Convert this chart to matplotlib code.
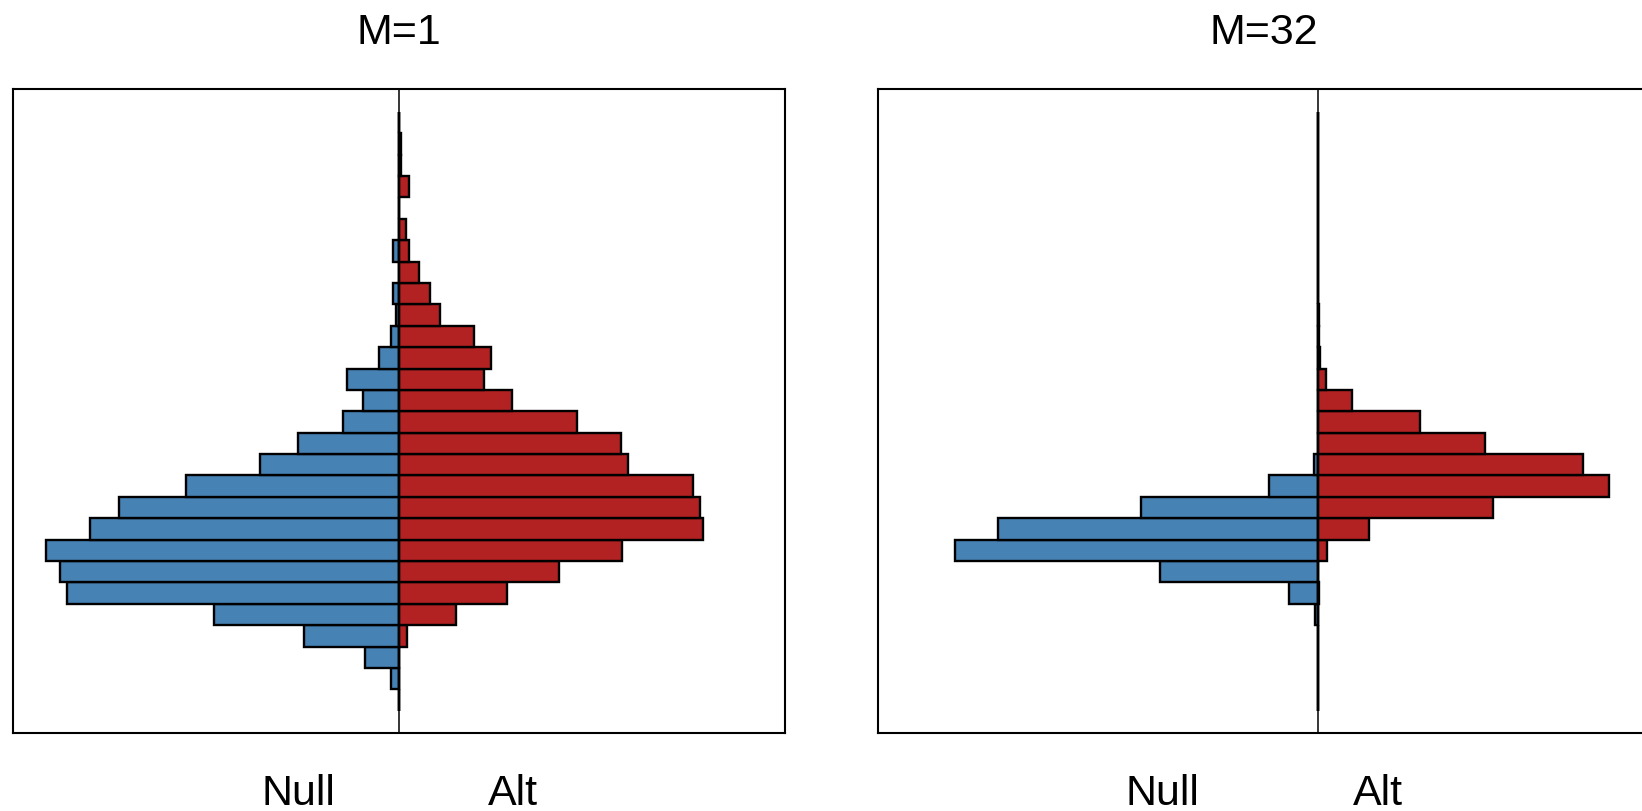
import numpy as np
import matplotlib
matplotlib.use("Agg")
import matplotlib.pyplot as plt

plt.rcParams["font.family"] = ["Liberation Sans", "DejaVu Sans"]

# histogram bins, counted from the bottom of each panel
bins = np.arange(28)

# M=1 panel (bar lengths, arbitrary units)
null_m1 = [0, 2.2, 9.4, 26.9, 52.4, 94.0, 96.1, 100, 87.5, 79.4, 60.4, 39.2, 28.4, 15.9,
           10.1, 14.6, 5.6, 2.2, 0.7, 1.5, 0, 1.5, 0, 0, 0, 0, 0, 0]
alt_m1 = [0, 0, 0, 2.3, 16.2, 30.8, 45.4, 63.5, 86.2, 85.5, 83.4, 65.1, 63.0, 50.5,
          32.1, 24.2, 26.3, 21.3, 11.7, 9.0, 5.9, 3.0, 2.1, 0, 3.0, 0.8, 0.8, 0]

# M=32 panel
null_m32 = [0, 0, 0, 0, 0.7, 8.0, 43.4, 100, 88.2, 48.6, 13.6, 1.2, 0, 0,
            0, 0, 0, 0, 0, 0, 0, 0, 0, 0, 0, 0, 0, 0]
alt_m32 = [0, 0, 0, 0, 0, 0.3, 0, 2.5, 14.0, 48.3, 80.2, 72.9, 45.9, 28.0,
           9.3, 2.1, 0.6, 0.3, 0.3, 0, 0, 0, 0, 0, 0, 0, 0, 0]

titles = ["M=1", "M=32"]
side_labels = ["Null", "Alt"]

W, H = 1642, 811
fig = plt.figure(figsize=(W / 100, H / 100), dpi=100)

panels = [
    (titles[0], null_m1, alt_m1, (-109.4, 109.5), 12.8),
    (titles[1], null_m32, alt_m32, (-121.3, 91.3), 877.5),
]

for title, null, alt, xlim, left_px in panels:
    ax = fig.add_axes([left_px / W, (H - 733.3) / H, 771.9 / W, 644 / H])
    ax.barh(bins + 0.5, -np.array(null), height=1, color="#4682B4",
            edgecolor="black", linewidth=1.7)
    ax.barh(bins + 0.5, alt, height=1, color="#B22222",
            edgecolor="black", linewidth=1.7)
    # empty bins still leave their outline on the zero line
    ax.vlines(0, bins[0], bins[-1] + 1, color="black", linewidth=1.7)
    ax.axvline(0, color="black", linewidth=1.1)
    ax.set_xlim(*xlim)
    ax.set_ylim(-1.05, 29.05)
    ax.set_xticks([])
    ax.set_yticks([])
    for s in ax.spines.values():
        s.set_linewidth(1.5)
    ax.text(0.5, 1.07, title, transform=ax.transAxes, ha="center",
            va="baseline", fontsize=31)
    ax.text(0.3695, -0.1113, side_labels[0], transform=ax.transAxes,
            ha="center", va="baseline", fontsize=31)
    ax.text(0.648, -0.1113, side_labels[1], transform=ax.transAxes,
            ha="center", va="baseline", fontsize=31)

fig.savefig("out.png", dpi=100)
